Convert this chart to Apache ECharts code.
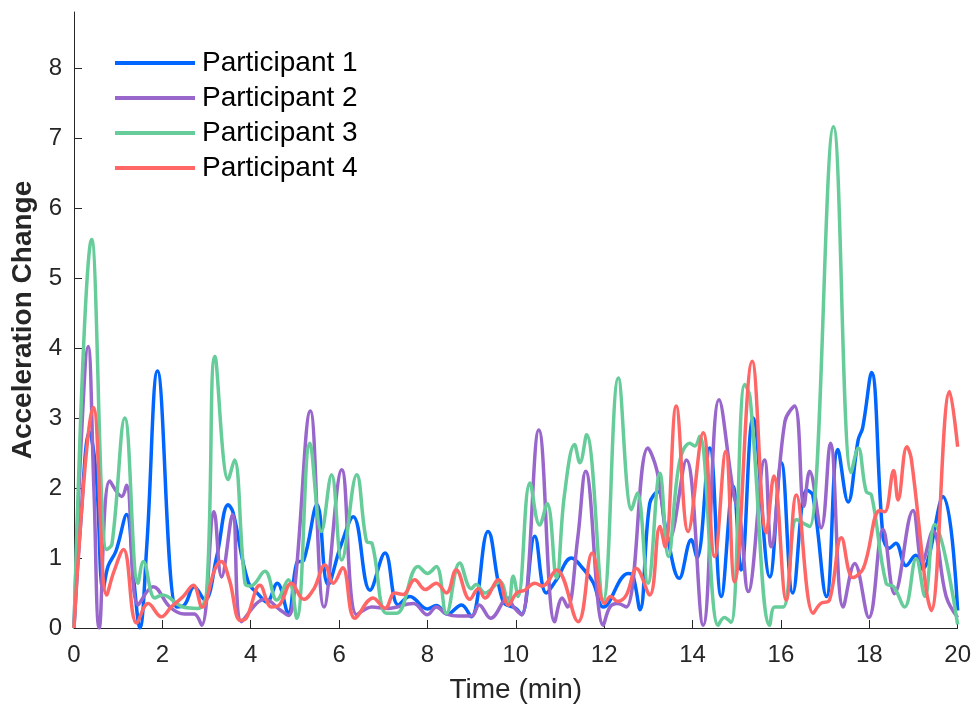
<!DOCTYPE html>
<html>
<head>
<meta charset="utf-8">
<script src="https://cdn.jsdelivr.net/npm/echarts@6/dist/echarts.min.js"></script>
<style>html,body{margin:0;padding:0;background:#fff;}#c{width:974px;height:710px;}</style>
</head>
<body>
<div id="c"></div>
<script>
var seriesNames = ['Participant 1', 'Participant 2', 'Participant 3', 'Participant 4'];
var xTicks = [0, 2, 4, 6, 8, 10, 12, 14, 16, 18, 20];
var yTicks = [0, 1, 2, 3, 4, 5, 6, 7, 8];

var p1 = [[0,0],[0.15,1.5],[0.35,2.8],[0.5,2.2],[0.66,0.55],[0.77,0.88],[0.95,1.1],[1.19,1.62],[1.35,0.7],[1.49,0],[1.65,1.2],[1.89,3.67],[2.32,0.3],[2.5,0.33],[2.72,0.59],[2.96,0.4],[3.23,1.02],[3.49,1.76],[3.6,1.65],[3.94,0.66],[4.19,0.47],[4.36,0.37],[4.6,0.64],[4.85,0.21],[5.04,0.93],[5.2,0.97],[5.5,1.76],[5.75,0.62],[6.04,1.18],[6.32,1.59],[6.7,0.54],[7.04,1.07],[7.34,0.33],[7.6,0.45],[8.0,0.27],[8.2,0.32],[8.45,0.2],[8.77,0.33],[8.99,0.16],[9.37,1.38],[9.71,0.38],[10.0,0.28],[10.13,0.19],[10.43,1.31],[10.69,0.5],[10.92,0.69],[11.26,1.0],[11.52,0.85],[11.75,0.65],[11.98,0.3],[12.54,0.78],[12.65,0.75],[12.81,0.26],[13.03,1.78],[13.22,1.95],[13.4,1.4],[13.7,0.71],[13.97,1.26],[14.1,1.0],[14.39,2.57],[14.65,0.45],[14.92,2.02],[15.1,0.83],[15.37,3.0],[15.75,0.73],[16.01,2.36],[16.27,0.5],[16.58,1.97],[16.72,1.9],[17.03,0.45],[17.29,2.55],[17.52,1.8],[17.75,2.69],[17.85,2.86],[18.05,3.65],[18.31,1.31],[18.45,1.14],[18.6,1.21],[18.83,0.89],[19.05,1.04],[19.2,0.84],[19.67,1.88],[20,0.25]];

var p2 = [[0,0],[0.15,2.5],[0.32,4.02],[0.45,2.0],[0.57,0],[0.81,2.1],[1.08,1.88],[1.19,2.04],[1.45,0.33],[1.79,0.59],[2.17,0.3],[2.5,0.2],[2.72,0.2],[2.89,0.04],[3.17,1.66],[3.34,0.73],[3.59,1.62],[3.79,0.09],[4.13,0.35],[4.32,0.41],[4.66,0.26],[4.85,0.18],[5.0,0.6],[5.35,3.1],[5.66,0.3],[6.06,2.26],[6.4,0.19],[6.74,0.3],[7.1,0.28],[7.68,0.35],[8.0,0.19],[8.2,0.3],[8.43,0.2],[8.7,0.17],[9.0,0.17],[9.17,0.33],[9.43,0.14],[9.82,0.43],[9.95,0.3],[10.13,0.19],[10.52,2.83],[10.88,0.09],[11.05,0.43],[11.17,0.3],[11.4,1.28],[11.58,2.24],[11.98,0.04],[12.13,0.3],[12.3,0.35],[12.5,0.3],[12.99,2.57],[13.19,2.26],[13.47,1.26],[13.86,2.4],[14.24,0.04],[14.6,3.26],[14.94,1.88],[15.07,1.6],[15.26,0.52],[15.63,2.4],[15.78,1.16],[16.09,2.95],[16.31,3.17],[16.52,1.74],[16.65,2.24],[16.91,1.43],[17.12,2.64],[17.41,0.3],[17.67,0.92],[17.99,0.15],[18.31,1.41],[18.57,0.49],[18.99,1.68],[19.2,0.94],[19.44,1.39],[19.74,0.45],[20,0.15]];

var p3 = [[0,0],[0.4,5.55],[0.74,1.12],[0.86,1.2],[1.15,3.0],[1.45,0.64],[1.57,0.95],[1.83,0.43],[2.0,0.47],[2.47,0.3],[2.8,0.28],[3.0,0.5],[3.19,3.88],[3.49,2.12],[3.63,2.4],[3.87,0.64],[4.0,0.6],[4.32,0.81],[4.59,0.4],[4.85,0.69],[5.04,0.14],[5.34,2.64],[5.6,1.38],[5.83,2.19],[6.06,0.97],[6.4,2.19],[6.62,1.24],[6.75,1.2],[7.07,0.21],[7.3,0.21],[7.79,0.88],[8.0,0.78],[8.2,0.88],[8.43,0.21],[8.73,0.93],[8.99,0.56],[9.1,0.62],[9.3,0.5],[9.64,0.66],[9.83,0.33],[9.94,0.74],[10.05,0.45],[10.32,2.07],[10.54,1.47],[10.71,1.78],[10.92,0.71],[11.1,1.9],[11.33,2.62],[11.45,2.36],[11.6,2.76],[11.98,0.4],[12.32,3.57],[12.62,1.69],[12.75,1.93],[12.99,0.64],[13.26,2.21],[13.45,1.02],[13.7,2.36],[13.94,2.64],[14.05,2.6],[14.16,2.74],[14.58,0.04],[14.72,0.15],[14.87,0.08],[15.18,3.48],[15.3,3.3],[15.75,0.04],[15.86,0.3],[16.05,0.3],[16.35,1.55],[16.5,1.5],[16.65,1.45],[17.19,7.16],[17.59,2.22],[17.75,2.57],[17.93,1.95],[18.05,1.9],[18.38,0.64],[18.55,0.59],[18.8,0.3],[19.06,0.99],[19.26,0.45],[19.48,1.48],[20,0.05]];

var p4 = [[0,0],[0.44,3.15],[0.74,0.47],[0.9,0.8],[1.12,1.12],[1.42,0.07],[1.68,0.35],[1.98,0.16],[2.2,0.3],[2.47,0.45],[2.7,0.61],[2.9,0.3],[3.19,0.84],[3.33,0.95],[3.52,0.68],[3.76,0.11],[3.9,0.14],[4.21,0.61],[4.47,0.3],[4.65,0.33],[4.92,0.64],[5.2,0.41],[5.43,0.56],[5.68,0.9],[5.87,0.64],[6.08,0.86],[6.36,0.14],[6.77,0.43],[7.04,0.28],[7.26,0.5],[7.45,0.48],[7.71,0.69],[7.95,0.55],[8.2,0.64],[8.43,0.5],[8.65,0.83],[8.96,0.41],[9.15,0.56],[9.3,0.43],[9.6,0.69],[9.83,0.33],[10.02,0.5],[10.2,0.54],[10.43,0.64],[10.6,0.6],[10.92,0.83],[11.41,0.09],[11.73,1.07],[12.01,0.35],[12.15,0.45],[12.3,0.38],[12.5,0.47],[12.73,0.85],[13.03,0.47],[13.26,1.45],[13.38,1.16],[13.63,3.17],[13.9,1.38],[14.24,2.79],[14.5,1.02],[14.75,2.52],[14.95,0.66],[15.35,3.81],[15.67,1.36],[15.84,2.17],[16.12,0.4],[16.35,1.9],[16.73,0.21],[16.9,0.35],[17.1,0.4],[17.37,1.29],[17.63,0.72],[17.87,0.86],[18.24,1.68],[18.35,1.66],[18.55,2.25],[18.65,1.83],[18.85,2.59],[18.95,2.42],[19.29,0.54],[19.4,0.25],[19.82,3.38],[20,2.59]];

var seriesData = [p1, p2, p3, p4];
var colors = ['#0066ff', '#9966cc', '#66cc99', '#ff6666'];

var chart = echarts.init(document.getElementById('c'), null, {renderer: 'canvas'});
var axisColor = '#262626';
var font = 'Arial, "Liberation Sans", Helvetica, sans-serif';

chart.setOption({
  animation: false,
  backgroundColor: '#fff',
  grid: {left: 74, right: 16, top: 12, bottom: 82, containLabel: false},
  legend: {
    orient: 'vertical',
    left: 110,
    top: 44,
    itemWidth: 80,
    itemHeight: 4,
    itemGap: 7,
    icon: 'rect',
    data: seriesNames,
    textStyle: {fontFamily: font, fontSize: 28, color: '#000', lineHeight: 28, padding: [0,0,0,2]}
  },
  xAxis: {
    type: 'value',
    min: xTicks[0],
    max: xTicks[xTicks.length - 1],
    interval: 2,
    name: 'Time (min)',
    nameLocation: 'middle',
    nameGap: 48,
    nameTextStyle: {fontFamily: font, fontSize: 28, color: axisColor},
    axisLine: {show: true, lineStyle: {color: axisColor, width: 1}},
    axisTick: {show: true, inside: true, length: 8, lineStyle: {color: axisColor}},
    axisLabel: {fontFamily: font, fontSize: 24, color: axisColor, margin: 15},
    splitLine: {show: false}
  },
  yAxis: {
    type: 'value',
    min: 0,
    max: 8.8,
    interval: 1,
    name: 'Acceleration Change',
    nameLocation: 'middle',
    nameGap: 33,
    nameTextStyle: {fontFamily: font, fontSize: 28, fontWeight: 'bold', color: axisColor},
    axisLine: {show: true, lineStyle: {color: axisColor, width: 1}},
    axisTick: {show: true, inside: true, length: 8, lineStyle: {color: axisColor}},
    axisLabel: {fontFamily: font, fontSize: 24, color: axisColor, margin: 12, showMaxLabel: false,
      formatter: function (v) { return yTicks.indexOf(v) >= 0 ? String(v) : ''; }},
    splitLine: {show: false}
  },
  series: seriesData.map(function (d, i) {
    return {
      name: seriesNames[i],
      type: 'line',
      data: d,
      smooth: 0.4,
      showSymbol: false,
      symbol: 'none',
      clip: true,
      lineStyle: {color: colors[i], width: 3.5},
      itemStyle: {color: colors[i]}
    };
  })
});
</script>
</body>
</html>
